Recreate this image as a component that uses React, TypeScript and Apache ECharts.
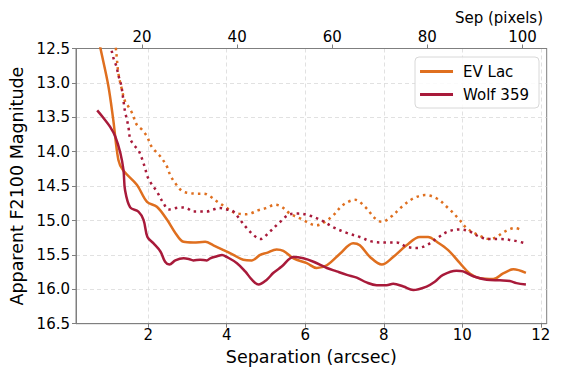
import React, { useEffect, useRef } from "react";
import * as echarts from "echarts";

// Separation (arcsec) vs apparent magnitude
const evLacSolid: [number, number][] = [
  [0.70, 12.27], [0.78, 12.49], [0.98, 13.03], [1.11, 13.54], [1.24, 14.12], [1.36, 14.27],
  [1.71, 14.48], [1.97, 14.73], [2.22, 14.80], [2.48, 14.99], [2.69, 15.18], [2.90, 15.31],
  [3.15, 15.32], [3.45, 15.31], [3.66, 15.36], [3.92, 15.43], [4.17, 15.50], [4.42, 15.57],
  [4.64, 15.58], [4.85, 15.50], [5.02, 15.47], [5.27, 15.42], [5.44, 15.44], [5.70, 15.55],
  [6.04, 15.62], [6.29, 15.69], [6.55, 15.65], [6.89, 15.48], [7.22, 15.33], [7.39, 15.36],
  [7.65, 15.53], [7.95, 15.64], [8.24, 15.53], [8.58, 15.36], [8.92, 15.24], [9.13, 15.24],
  [9.35, 15.31], [9.64, 15.43], [9.94, 15.62], [10.19, 15.77], [10.45, 15.84], [10.79, 15.85],
  [11.04, 15.77], [11.30, 15.71], [11.62, 15.76],
];

const wolfSolid: [number, number][] = [
  [0.70, 13.40], [0.86, 13.51], [1.03, 13.64], [1.16, 13.78], [1.29, 14.02], [1.37, 14.27],
  [1.41, 14.56], [1.54, 14.81], [1.75, 14.87], [1.88, 14.99], [1.98, 15.24], [2.13, 15.33],
  [2.31, 15.45], [2.43, 15.60], [2.54, 15.64], [2.69, 15.58], [2.90, 15.55], [3.03, 15.56],
  [3.15, 15.58], [3.32, 15.57], [3.49, 15.58], [3.58, 15.55], [3.75, 15.52], [3.88, 15.50],
  [4.00, 15.53], [4.26, 15.62], [4.47, 15.74], [4.64, 15.86], [4.81, 15.93], [5.02, 15.86],
  [5.19, 15.76], [5.40, 15.67], [5.70, 15.53], [5.95, 15.55], [6.21, 15.60], [6.55, 15.69],
  [6.80, 15.74], [7.06, 15.79], [7.31, 15.83], [7.56, 15.90], [7.82, 15.94], [8.07, 15.94],
  [8.24, 15.92], [8.50, 15.96], [8.75, 16.01], [9.09, 15.96], [9.30, 15.89], [9.51, 15.79],
  [9.85, 15.73], [10.02, 15.74], [10.28, 15.81], [10.62, 15.86], [10.96, 15.87], [11.21, 15.88],
  [11.38, 15.91], [11.62, 15.93],
];

const evLacDotted: [number, number][] = [
  [1.12, 12.20], [1.19, 12.58], [1.24, 12.86], [1.33, 13.10], [1.41, 13.27], [1.50, 13.35],
  [1.59, 13.44], [1.71, 13.61], [1.84, 13.68], [1.97, 13.78], [2.09, 13.93], [2.31, 14.07],
  [2.48, 14.22], [2.56, 14.34], [2.69, 14.46], [2.86, 14.57], [3.03, 14.60], [3.24, 14.61],
  [3.41, 14.61], [3.58, 14.65], [3.79, 14.74], [3.96, 14.80], [4.13, 14.87], [4.30, 14.90],
  [4.47, 14.91], [4.64, 14.89], [4.81, 14.85], [5.00, 14.82], [5.23, 14.77], [5.40, 14.80],
  [5.61, 14.90], [5.87, 14.97], [6.29, 15.07], [6.50, 15.02], [6.72, 14.92], [6.97, 14.77],
  [7.27, 14.70], [7.52, 14.80], [7.78, 14.97], [7.95, 15.02], [8.20, 14.94], [8.46, 14.80],
  [8.75, 14.68], [9.05, 14.63], [9.35, 14.68], [9.64, 14.82], [9.90, 14.97], [10.11, 15.11],
  [10.40, 15.21], [10.70, 15.27], [10.87, 15.24], [11.08, 15.16], [11.34, 15.11], [11.51, 15.14],
];

const wolfDotted: [number, number][] = [
  [0.95, 12.25], [1.08, 12.56], [1.13, 12.67], [1.19, 12.76], [1.24, 12.89], [1.31, 13.03],
  [1.36, 13.22], [1.41, 13.42], [1.46, 13.54], [1.50, 13.66], [1.54, 13.81], [1.63, 13.90],
  [1.75, 13.98], [1.84, 14.10], [1.92, 14.24], [1.98, 14.36], [2.05, 14.44], [2.22, 14.58],
  [2.39, 14.75], [2.52, 14.84], [2.81, 14.81], [2.98, 14.82], [3.15, 14.87], [3.32, 14.87],
  [3.49, 14.87], [3.66, 14.84], [3.83, 14.82], [4.00, 14.84], [4.17, 14.87], [4.34, 14.99],
  [4.51, 15.11], [4.68, 15.21], [4.85, 15.27], [5.10, 15.16], [5.36, 15.02], [5.61, 14.91],
  [5.82, 14.90], [6.12, 14.93], [6.42, 15.00], [6.72, 15.10], [7.06, 15.18], [7.39, 15.24],
  [7.73, 15.31], [8.07, 15.32], [8.33, 15.32], [8.58, 15.38], [8.84, 15.40], [9.09, 15.36],
  [9.35, 15.26], [9.64, 15.16], [9.94, 15.13], [10.19, 15.16], [10.45, 15.24], [10.70, 15.27],
  [10.96, 15.27], [11.30, 15.29], [11.59, 15.33],
];

const sepTicks = [2, 4, 6, 8, 10, 12];
const pixelTicks = [20, 40, 60, 80, 100];

const ORANGE = "#DF6F1F";
const CRIMSON = "#A81A3A";
const FONT = "DejaVu Sans";
const AXIS_GRAY = "#7f7f7f";

export default function App() {
  const ref = useRef<HTMLDivElement>(null);
  useEffect(() => {
    if (!ref.current) return;
    const chart = echarts.init(ref.current, undefined, { renderer: "svg" });
    const dotted = [2.5, 4.1];
    chart.setOption({
      animation: false,
      textStyle: { fontFamily: FONT },
      grid: {
        left: 76,
        right: 15.3,
        top: 48.5,
        bottom: 44.3,
        containLabel: false,
        outerBoundsMode: "none",
        show: true,
        borderColor: AXIS_GRAY,
        borderWidth: 1,
      },
      legend: {
        data: ["EV Lac", "Wolf 359"],
        orient: "vertical",
        right: 23,
        top: 57,
        icon: "rect",
        itemWidth: 33,
        itemHeight: 3,
        itemGap: 8,
        padding: [7, 10, 6, 5],
        backgroundColor: "rgba(255,255,255,0.85)",
        borderColor: "#d8d8d8",
        borderWidth: 1,
        borderRadius: 4,
        textStyle: { fontFamily: FONT, fontSize: 15, color: "#000", padding: [0, 0, 0, 5] },
      },
      xAxis: [
        {
          type: "value",
          position: "bottom",
          min: 0.16,
          max: 12.15,
          name: "Separation (arcsec)",
          nameLocation: "middle",
          nameGap: 21,
          nameTextStyle: { fontFamily: FONT, fontSize: 17.5, color: "#000" },
          axisLine: { show: true, onZero: false, lineStyle: { color: AXIS_GRAY } },
          axisTick: { show: true, length: 4, customValues: sepTicks, lineStyle: { color: AXIS_GRAY } },
          axisLabel: { customValues: sepTicks, fontFamily: FONT, fontSize: 15, color: "#000", margin: 4 },
          splitLine: { show: true, lineStyle: { color: "#d9d9d9", type: [4, 3], width: 0.8 } },
        },
        {
          type: "value",
          position: "top",
          min: 6.12,
          max: 105.09,
          axisLine: { show: true, onZero: false, lineStyle: { color: AXIS_GRAY } },
          axisTick: { show: true, length: 4, customValues: pixelTicks, lineStyle: { color: AXIS_GRAY } },
          axisLabel: { customValues: pixelTicks, fontFamily: FONT, fontSize: 15, color: "#000", margin: 4 },
          splitLine: { show: false },
        },
      ],
      yAxis: {
        type: "value",
        inverse: true,
        min: 12.5,
        max: 16.5,
        interval: 0.5,
        name: "Apparent F2100 Magnitude",
        nameLocation: "middle",
        nameGap: 38,
        nameTextStyle: { fontFamily: FONT, fontSize: 17.5, color: "#000" },
        axisLine: { show: true, lineStyle: { color: AXIS_GRAY } },
        axisTick: { show: true, length: 4, lineStyle: { color: AXIS_GRAY } },
        axisLabel: {
          fontFamily: FONT,
          fontSize: 15,
          color: "#000",
          margin: 6,
          formatter: (v: number) => v.toFixed(1),
        },
        splitLine: { show: true, lineStyle: { color: "#d9d9d9", type: [4, 3], width: 0.8 } },
      },
      graphic: [
        {
          type: "text",
          right: 19,
          top: 10,
          style: { text: "Sep (pixels)", fontFamily: FONT, fontSize: 15, fill: "#000" },
        },
      ],
      series: [
        {
          name: "EV Lac",
          type: "line",
          data: evLacSolid,
          showSymbol: false,
          smooth: 0.35,
          clip: true,
          lineStyle: { color: ORANGE, width: 2.5 },
          itemStyle: { color: ORANGE },
          z: 3,
        },
        {
          name: "Wolf 359",
          type: "line",
          data: wolfSolid,
          showSymbol: false,
          smooth: 0.35,
          clip: true,
          lineStyle: { color: CRIMSON, width: 2.5 },
          itemStyle: { color: CRIMSON },
          z: 4,
        },
        {
          name: "EV Lac (dotted)",
          type: "line",
          data: evLacDotted,
          showSymbol: false,
          smooth: 0.35,
          clip: true,
          lineStyle: { color: ORANGE, width: 2.5, type: dotted },
          itemStyle: { color: ORANGE },
          z: 3,
        },
        {
          name: "Wolf 359 (dotted)",
          type: "line",
          data: wolfDotted,
          showSymbol: false,
          smooth: 0.35,
          clip: true,
          lineStyle: { color: CRIMSON, width: 2.5, type: dotted },
          itemStyle: { color: CRIMSON },
          z: 4,
        },
      ],
    });
    return () => chart.dispose();
  }, []);
  return <div ref={ref} style={{ width: 562, height: 368, position: "absolute", left: 0, top: 0 }} />;
}
